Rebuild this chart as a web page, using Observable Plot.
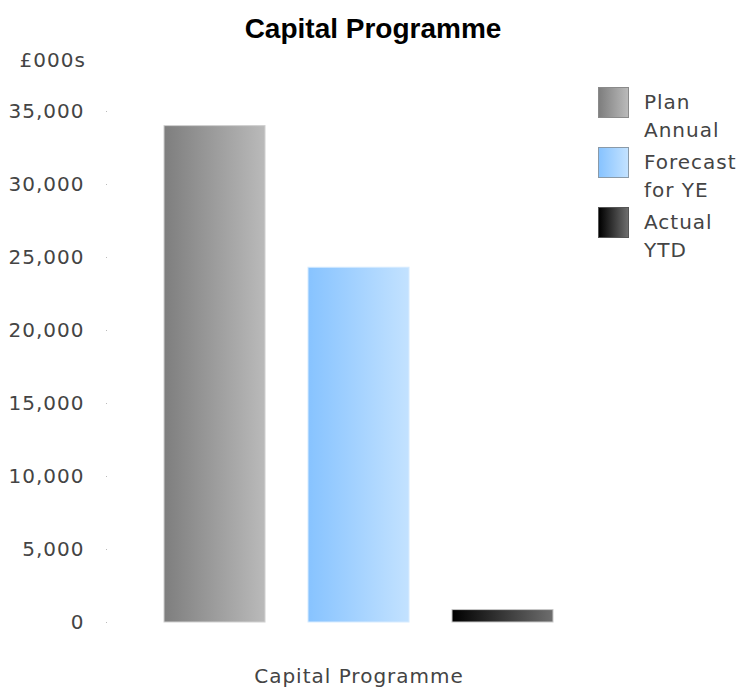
<!DOCTYPE html>
<html>
<head>
<meta charset="utf-8">
<script src="https://cdn.jsdelivr.net/npm/d3@7"></script>
<script src="https://cdn.jsdelivr.net/npm/@observablehq/plot@0.6"></script>
<style>
  body { margin: 0; background: #fff; }
  #wrap { position: relative; width: 746px; height: 688px; font-family: "DejaVu Sans", sans-serif; }
  #title { box-sizing: border-box; height: 49px; padding-top: 13px; line-height: 32px; text-align: center;
           font: bold 28px "Liberation Sans", Arial, sans-serif; color: #000; }
  #legend { position: absolute; left: 598px; top: 87px; }
  .item { display: flex; align-items: flex-start; height: 60px; }
  .sw { box-sizing: border-box; width: 31px; height: 31px; border: 1px solid #888; flex: none; }
  .lab { margin-left: 15px; width: 104px; font-size: 20px; line-height: 28px; color: #444; margin-top: 1px; letter-spacing: 1px; }
</style>
</head>
<body>
<div id="wrap">
  <div id="title"></div>
  <div id="chart"></div>
  <div id="legend"></div>
</div>
<script>
// ---- data ----
const chartTitle = "Capital Programme";
const category = "Capital Programme";
const unitLabel = "£000s";
const series = ["Plan Annual", "Forecast for YE", "Actual YTD"];
const values = [34000, 24300, 850];
const yTicks = [0, 5000, 10000, 15000, 20000, 25000, 30000, 35000];
// ---- styles ----
const gradFrom = ["#7e7e7e", "#87c3ff", "#000000"];
const gradTo   = ["#bababa", "#c3e2ff", "#6e6e6e"];
const barStroke = ["#d0d0d0", "#d6ebff", "#c8c8c8"];
const swatchBorder = ["#8a8a8a", "#8a9aa8", "#555555"];
const gradIds = series.map((s, i) => `grad${i}`);

const data = series.map((s, i) => ({series: s, value: values[i], fill: `url(#${gradIds[i]})`, stroke: barStroke[i]}));

document.getElementById("title").textContent = chartTitle;

const defs = () => {
  const d = d3.create("svg:defs");
  series.forEach((s, i) => {
    const g = d.append("linearGradient").attr("id", gradIds[i])
      .attr("x1", 0).attr("x2", 1).attr("y1", 0).attr("y2", 0);
    g.append("stop").attr("offset", 0).attr("stop-color", gradFrom[i]);
    g.append("stop").attr("offset", 1).attr("stop-color", gradTo[i]);
  });
  return d.node();
};

const chart = Plot.plot({
  width: 746,
  height: 639,
  marginTop: 62,
  marginBottom: 66,
  marginLeft: 107,
  marginRight: 137,
  style: {fontFamily: "'DejaVu Sans', sans-serif", fontSize: "20px", color: "#444", background: "#fff", letterSpacing: "1px"},
  x: {domain: series, paddingInner: 0.3, paddingOuter: 0.3875},
  y: {domain: [0, 35000]},
  color: {type: "identity"},
  marks: [
    defs,
    Plot.barY(data, {x: "series", y: "value", fill: "fill", stroke: "stroke", strokeWidth: 1}),
    Plot.axisY({ticks: yTicks, tickFormat: d3.format(","), tickSize: 1, tickPadding: 22, stroke: "#bbb",
                fill: "#444", label: unitLabel, labelArrow: "none", labelOffset: 88}),
    Plot.axisX({ticks: [series[1]], tickFormat: () => category, tickSize: 0, tickPadding: 46, fill: "#444", label: null})
  ]
});
document.getElementById("chart").appendChild(chart);

const legend = d3.select("#legend");
series.forEach((s, i) => {
  const it = legend.append("div").attr("class", "item");
  it.append("div").attr("class", "sw")
    .style("background", `linear-gradient(to right, ${gradFrom[i]}, ${gradTo[i]})`)
    .style("border-color", swatchBorder[i]);
  it.append("div").attr("class", "lab").text(s);
});
</script>
</body>
</html>
